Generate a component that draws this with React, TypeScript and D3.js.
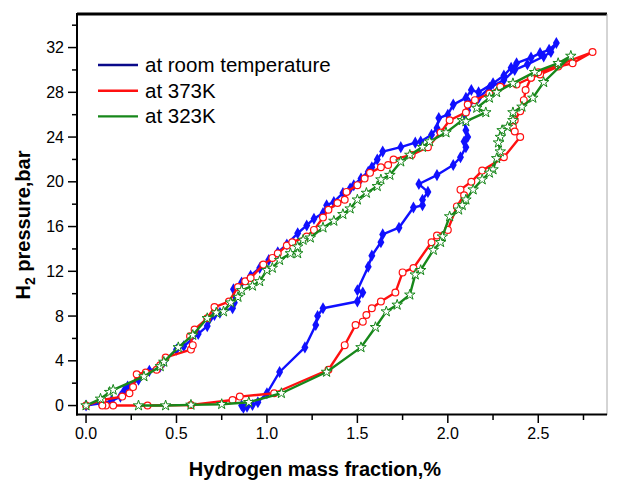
import * as d3 from "d3";

// [mass fraction %, pressure bar]
const roomAbs = [
  [0, 0], [0.08, 0.2], [0.14, 0.4], [0.19, 0.8], [0.21, 1.3], [0.23, 1.7], [0.29, 2.3], [0.35, 3.1],
  [0.41, 3.5], [0.43, 3.9], [0.5, 5.0], [0.54, 5.3], [0.62, 6.4], [0.67, 7.1], [0.71, 8.1], [0.74, 8.3],
  [0.81, 8.7], [0.82, 9.2], [0.815, 10.4], [0.86, 11.0], [0.91, 11.6], [0.96, 12.3], [1.01, 13.0],
  [1.06, 13.7], [1.11, 14.4], [1.17, 15.4], [1.22, 16.1], [1.26, 16.7], [1.31, 17.2], [1.33, 17.9],
  [1.37, 18.2], [1.42, 19.0], [1.46, 19.4], [1.48, 19.7], [1.52, 20.3], [1.56, 20.9], [1.58, 21.3],
  [1.61, 22.0], [1.64, 22.7], [1.74, 23.1], [1.82, 23.5], [1.85, 23.6], [1.91, 24.2], [1.94, 24.8],
  [1.95, 25.7], [2.0, 26.0], [2.03, 26.9], [2.1, 27.5], [2.13, 28.2], [2.17, 28.0], [2.25, 28.8],
  [2.31, 29.5], [2.35, 30.2], [2.38, 30.6], [2.46, 31.1], [2.51, 31.5], [2.56, 31.8], [2.6, 32.4],
];
const roomDes = [
  [2.6, 32.4], [2.57, 31.6], [2.53, 31.2], [2.44, 30.5], [2.37, 30.0], [2.31, 29.1], [2.23, 28.4],
  [2.17, 27.5], [2.12, 27.0], [2.11, 26.4], [2.09, 25.5], [2.1, 24.6], [2.11, 24.0], [2.09, 23.6],
  [2.1, 23.1], [2.07, 22.2], [2.03, 21.5], [1.94, 20.6], [1.84, 19.8], [1.89, 19.1], [1.86, 18.4],
  [1.86, 17.9], [1.81, 17.7], [1.73, 15.9], [1.64, 15.3], [1.63, 14.6], [1.58, 13.4], [1.56, 12.4],
  [1.5, 10.3], [1.53, 10.1], [1.5, 9.3], [1.31, 8.7], [1.28, 8.0], [1.27, 7.2], [1.21, 5.2],
  [1.07, 3.0], [1.0, 1.1], [0.95, 0.3], [0.92, 0.05], [0.89, -0.1], [0.87, -0.2], [0.86, 0.0],
];

const k373Abs = [
  [0, 0], [0.09, 0.5], [0.2, 0.8], [0.24, 1.1], [0.26, 1.65], [0.28, 2.8], [0.33, 2.95], [0.39, 3.2],
  [0.41, 3.6], [0.44, 4.3], [0.58, 5.0], [0.59, 5.4], [0.575, 6.2], [0.6, 6.8], [0.67, 7.8], [0.71, 8.8],
  [0.79, 9.3], [0.84, 10.6], [0.88, 11.1], [0.91, 11.4], [0.98, 12.6], [1.03, 13.2], [1.06, 13.6],
  [1.11, 14.3], [1.14, 14.6], [1.22, 15.1], [1.26, 15.7], [1.31, 16.8], [1.34, 17.5], [1.39, 18.1],
  [1.43, 18.4], [1.44, 19.1], [1.5, 19.7], [1.54, 20.3], [1.57, 20.8], [1.63, 21.3], [1.67, 21.5],
  [1.7, 22.0], [1.8, 22.4], [1.89, 23.1], [1.96, 24.4], [2.01, 25.5], [2.1, 26.2], [2.11, 26.9],
  [2.15, 27.3], [2.23, 27.9], [2.29, 28.5], [2.38, 28.7], [2.46, 29.3], [2.51, 29.6], [2.61, 30.3],
  [2.69, 30.6], [2.8, 31.6],
];
const k373Des = [
  [2.8, 31.6], [2.62, 30.5], [2.5, 29.8], [2.46, 29.3], [2.43, 28.2], [2.42, 27.3], [2.4, 26.3],
  [2.37, 25.5], [2.36, 24.9], [2.37, 24.5], [2.4, 24.0], [2.31, 22.2], [2.19, 21.0], [2.13, 20.0],
  [2.07, 19.3], [2.09, 18.8], [2.05, 17.8], [2.0, 15.7], [1.94, 15.2], [1.91, 14.6], [1.81, 12.3],
  [1.75, 11.9], [1.71, 10.1], [1.63, 9.3], [1.58, 8.7], [1.55, 8.1], [1.53, 7.5], [1.49, 7.2],
  [1.43, 5.4], [1.34, 3.2], [1.04, 1.1], [0.85, 0.8], [0.81, 0.5], [0.58, 0.05], [0.34, 0.0],
  [0.15, 0.0], [0.11, 0.0], [0.09, 0.0],
];

const k323Abs = [
  [0, 0], [0.08, 0.6], [0.13, 1.2], [0.15, 1.4], [0.32, 2.6], [0.41, 3.5], [0.43, 3.9], [0.51, 5.2],
  [0.59, 6.3], [0.67, 7.8], [0.72, 8.3], [0.76, 8.4], [0.8, 9.2], [0.84, 9.7], [0.86, 10.3],
  [0.92, 10.7], [0.96, 11.1], [1.0, 12.1], [1.03, 12.3], [1.07, 13.0], [1.13, 13.6], [1.17, 13.6],
  [1.17, 14.2], [1.2, 14.8], [1.24, 15.0], [1.31, 15.9], [1.37, 16.5], [1.42, 17.1], [1.46, 17.6],
  [1.5, 18.4], [1.55, 19.0], [1.61, 19.6], [1.63, 20.2], [1.68, 20.6], [1.74, 21.8], [1.79, 22.4],
  [1.86, 23.1], [1.9, 23.6], [1.99, 24.4], [2.08, 25.5], [2.1, 25.4], [2.21, 26.2], [2.16, 26.6],
  [2.23, 27.5], [2.27, 28.0], [2.36, 28.8], [2.48, 29.8], [2.61, 30.6], [2.68, 31.25],
];
const k323Des = [
  [2.68, 31.25], [2.53, 28.9], [2.47, 27.5], [2.41, 26.7], [2.36, 26.2], [2.36, 25.5], [2.33, 24.9],
  [2.3, 24.6], [2.29, 24.0], [2.28, 23.5], [2.29, 22.7], [2.27, 22.1], [2.25, 21.1], [2.23, 20.8],
  [2.19, 20.2], [2.14, 19.3], [2.1, 18.4], [2.08, 17.9], [2.06, 17.5], [2.01, 16.9], [1.97, 15.1],
  [1.96, 14.6], [1.92, 13.9], [1.85, 12.1], [1.82, 11.7], [1.79, 9.9], [1.72, 9.0], [1.66, 8.4],
  [1.6, 7.0], [1.52, 5.2], [1.33, 3.0], [1.08, 1.1], [0.9, 0.3], [0.75, 0.12], [0.58, 0.06],
  [0.44, 0.0], [0.29, 0.0],
];

const legendLabels = ["at room temperature", "at 373K", "at 323K"];
const xTickLabels = ["0.0", "0.5", "1.0", "1.5", "2.0", "2.5"];
const yTickLabels = ["0", "4", "8", "12", "16", "20", "24", "28", "32"];

const font = "'Liberation Sans', Arial, sans-serif";

export default function App() {
  const x = d3.scaleLinear().domain([-0.05, 2.88]).range([77, 607]);
  const y = d3.scaleLinear().domain([-0.8, 35]).range([414.5, 14]);
  const line = d3.line<number[]>().x((d) => x(d[0])).y((d) => y(d[1]));

  const series = [
    { pts: roomAbs.concat(roomDes.slice(1)), color: "#1010ff", legend: "#0a0a8a", marker: "diamond" },
    { pts: k373Abs.concat(k373Des.slice(1)), color: "#ff1010", legend: "#ff1010", marker: "circle" },
    { pts: k323Abs.concat(k323Des.slice(1)), color: "#17871a", legend: "#17871a", marker: "star" },
  ];
  const diamond = d3.symbol().type(d3.symbolDiamond).size(42)() as string;
  const star = d3.symbol().type(d3.symbolStar).size(34)() as string;

  const yMinor = d3.range(0, 35, 2);
  const xMinor = d3.range(0, 2.76, 0.25);

  return (
    <svg width={617} height={481} style={{ position: "absolute", left: 0, top: 0, background: "#fff" }}>
      <rect width={617} height={481} fill="#fff" />
      {/* frame */}
      <line x1={77} x2={607} y1={14} y2={14} stroke="#000" strokeWidth={3} />
      <line x1={607} x2={607} y1={14} y2={415} stroke="#aaa" strokeWidth={1} />

      {series.map((s, i) => (
        <g key={i}>
          <path d={line(s.pts as any) || ""} fill="none" stroke={s.color} strokeWidth={2.4} strokeLinejoin="round" />
          {s.pts.map((p, j) =>
            s.marker === "circle" ? (
              <circle key={j} cx={x(p[0])} cy={y(p[1])} r={3.4} fill="#fff" stroke={s.color} strokeWidth={1.2} />
            ) : s.marker === "star" ? (
              <path key={j} d={star} transform={`translate(${x(p[0])},${y(p[1])})`} fill="#fff" stroke={s.color} strokeWidth={1} />
            ) : (
              <path key={j} d={diamond} transform={`translate(${x(p[0])},${y(p[1])})`} fill={s.color} />
            )
          )}
        </g>
      ))}

      {/* axes */}
      <line x1={77} x2={77} y1={13} y2={415.5} stroke="#000" strokeWidth={2} />
      <line x1={76} x2={607} y1={414.5} y2={414.5} stroke="#000" strokeWidth={2} />
      {yMinor.map((v) => (
        <line key={v} x1={v % 4 === 0 ? 68 : 72} x2={77} y1={y(v)} y2={y(v)} stroke="#000" strokeWidth={1.5} />
      ))}
      {yTickLabels.map((t) => (
        <text key={t} x={64} y={y(+t) + 5.5} textAnchor="end" fontFamily={font} fontSize={16}>{t}</text>
      ))}
      {xMinor.map((v) => (
        <line key={v} x1={x(v)} x2={x(v)} y1={414.5} y2={Math.round(v * 100) % 50 === 0 ? 423 : 420} stroke="#000" strokeWidth={1.5} />
      ))}
      {xTickLabels.map((t) => (
        <text key={t} x={x(+t)} y={439} textAnchor="middle" fontFamily={font} fontSize={16}>{t}</text>
      ))}

      <text x={315} y={476} textAnchor="middle" fontFamily={font} fontSize={20} fontWeight="bold">
        Hydrogen mass fraction,%
      </text>
      <text transform="translate(30,225) rotate(-90)" textAnchor="middle" fontFamily={font} fontSize={20} fontWeight="bold">
        H<tspan fontSize={14} dy={5}>2</tspan><tspan dy={-5}> pressure,bar</tspan>
      </text>

      {/* legend */}
      {legendLabels.map((l, i) => (
        <g key={l} transform={`translate(98,${65 + i * 25.7})`}>
          <line x1={0} x2={40} y1={0} y2={0} stroke={series[i].legend} strokeWidth={2.4} />
          <text x={47} y={7} fontFamily={font} fontSize={20.5}>{l}</text>
        </g>
      ))}
    </svg>
  );
}
